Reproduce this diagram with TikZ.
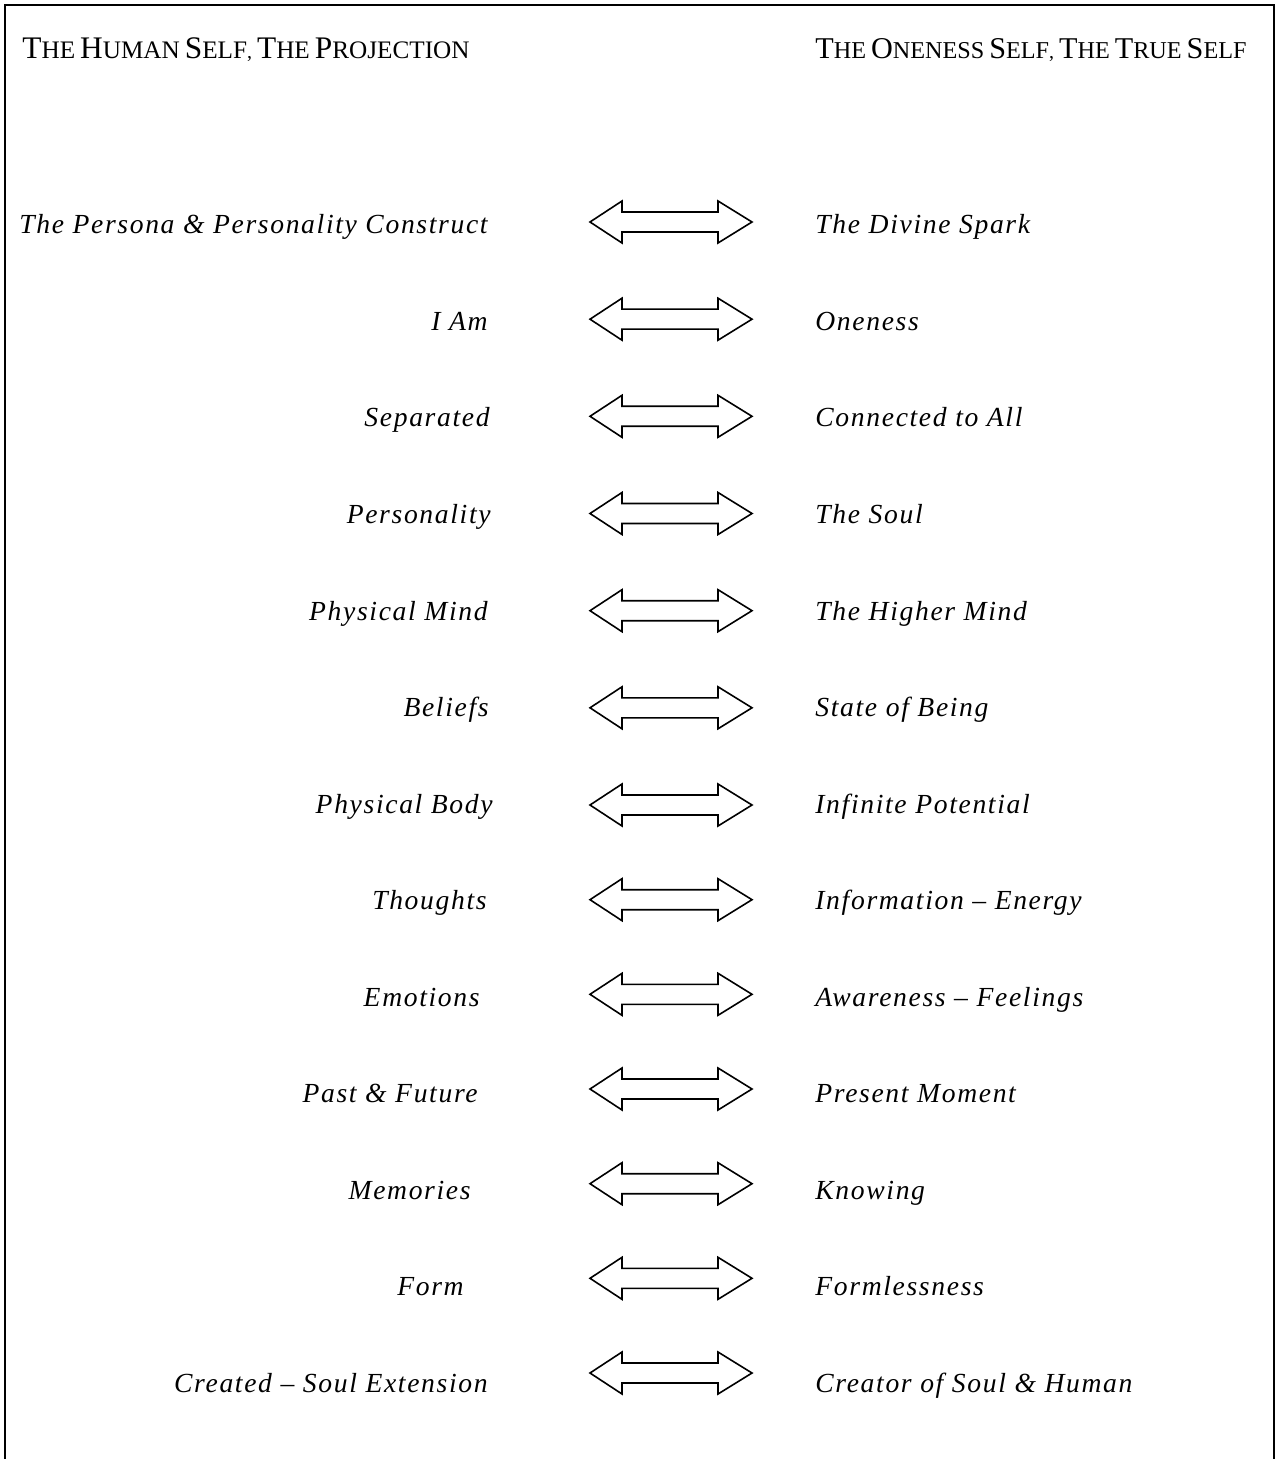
\documentclass[tikz,border=0pt]{standalone}
\usepackage{fontspec}
\setmainfont{Liberation Serif}
\newfontfamily\itfont[LetterSpace=6]{Liberation Serif}
\newcommand{\bigsc}[1]{{\fontsize{15.7}{17}\selectfont #1}}
\newcommand{\smsc}[1]{{\fontsize{12.6}{14}\selectfont #1}}
\newcommand{\bigscr}[1]{{\fontsize{15.1}{17}\selectfont #1}}
\newcommand{\smscr}[1]{{\fontsize{12.1}{14}\selectfont #1}}
\begin{document}
\begin{tikzpicture}[x=0.5pt,y=-0.5pt,
  lefttxt/.style={anchor=base east,inner sep=0pt,font=\itfont\fontsize{13.8}{16}\selectfont\itshape},
  righttxt/.style={anchor=base west,inner sep=0pt,font=\itfont\fontsize{13.8}{16}\selectfont\itshape},
  headtxt/.style={inner sep=0pt},
  dblarrow/.style={draw=black,line width=0.8pt,line join=miter,fill=white},
  frameline/.style={draw=black,line width=1.25pt}]
\useasboundingbox (0,0) rectangle (1280,1459);
\draw[frameline] (5,1462) -- (5,5) -- (1274,5) -- (1274,1462);
\node[headtxt,anchor=base west] (hl) at (22,59) {\bigsc{T}\smsc{HE} \bigsc{H}\smsc{UMAN} \bigsc{S}\smsc{ELF}, \bigsc{T}\smsc{HE} \bigsc{P}\smsc{ROJECTION}};
\node[headtxt,anchor=base west] (hr) at (815,59) {\bigscr{T}\smscr{HE} \bigscr{O}\smscr{NENESS} \bigscr{S}\smscr{ELF}, \bigscr{T}\smscr{HE} \bigscr{T}\smscr{RUE} \bigscr{S}\smscr{ELF}};
\foreach \ay/\ty/\lx/\ltext/\rtext [count=\i] in {
  222/234/488/{The Persona \& Personality Construct}/{The Divine Spark},
  319.2/330.5/488/{I Am}/{Oneness},
  416.3/427/490/{Separated}/{Connected to All},
  513.5/523.5/491/{Personality}/{The Soul},
  610.7/620/488/{Physical Mind}/{The Higher Mind},
  707.8/716.5/489/{Beliefs}/{State of Being},
  805/813/493/{Physical Body}/{Infinite Potential},
  899.7/909.5/487/{Thoughts}/{Information – Energy},
  994.3/1006/480/{Emotions}/{Awareness – Feelings},
  1089/1102.5/478/{Past \& Future}/{Present Moment},
  1183.7/1199/471/{Memories}/{Knowing},
  1278.3/1295.5/464/{Form}/{Formlessness},
  1373/1392/488/{Created – Soul Extension}/{Creator of Soul \& Human}} {
  \node[lefttxt] (l\i) at (\lx,\ty) {\ltext};
  \node[righttxt] (r\i) at (815,\ty) {\rtext};
  \coordinate (a\i) at (590,\ay);
  \draw[dblarrow] (a\i) -- ++(32,-21) -- ++(0,11) -- ++(96,0) -- ++(0,-11) -- ++(34,21)
     -- ++(-34,21) -- ++(0,-11) -- ++(-96,0) -- ++(0,11) -- cycle;
}
\end{tikzpicture}
\end{document}
